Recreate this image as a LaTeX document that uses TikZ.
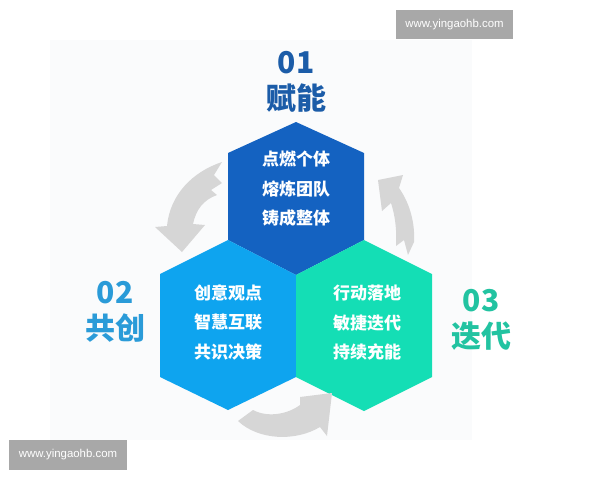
\documentclass[tikz,border=0pt]{standalone}
\usepackage{fontspec}
\setmainfont{Liberation Sans}
\newfontfamily\cjk{Noto Sans CJK SC}
\usepackage{xcolor}
\definecolor{topblue}{HTML}{1462C1}
\definecolor{leftblue}{HTML}{0EA4EF}
\definecolor{rightgreen}{HTML}{14DEB5}
\definecolor{titletop}{HTML}{1B5CA8}
\definecolor{titleleft}{HTML}{2A9BD8}
\definecolor{titleright}{HTML}{22C3A1}
\definecolor{arrowgray}{HTML}{D6D6D6}
\definecolor{markgray}{HTML}{A8A8A8}
\definecolor{panel}{HTML}{FAFBFC}

\begin{document}
\begin{tikzpicture}[x=1pt,y=-1pt,
    hexlabel/.style={text=white,align=center,inner sep=0pt,font=\cjk\bfseries\fontsize{17}{29.5}\selectfont},
    title/.style={align=center,inner sep=0pt,font=\cjk\bfseries\fontsize{30}{36}\selectfont},
    markbox/.style={fill=markgray,text=white,minimum width=117pt,minimum height=29pt,font=\fontsize{11.4}{13}\selectfont}]
    \useasboundingbox (0,0) rectangle (600,480);
    \fill[white] (0,0) rectangle (600,480);
    \fill[panel] (50,40) rectangle (472,440);

    \fill[topblue] (296,122) -- (364,153) -- (364,240) -- (296,275) -- (228,240) -- (228,153) -- cycle;
    \fill[leftblue] (228,240) -- (296,275) -- (296,377) -- (228,410) -- (160,377) -- (160,274) -- cycle;
    \fill[rightgreen] (364,240) -- (432,274) -- (432,377) -- (364,411) -- (296,377) -- (296,275) -- cycle;

    \fill[arrowgray] (222,162) .. controls (192,172) and (170,195) .. (167,226) -- (155,227) -- (182,252) -- (205,225)
        -- (193,224) .. controls (196,210) and (203,200) .. (217,195) -- (211,190) -- (222,183) -- (214,175) -- cycle;
    \fill[arrowgray] (378,180) -- (403,175) -- (399,188) .. controls (411,205) and (415,225) .. (414,242)
        -- (408,255) -- (404,240) -- (396,246) .. controls (397,230) and (395,215) .. (391,203) -- (382,211) -- cycle;
    \fill[arrowgray] (238,421) -- (253,410) .. controls (268,418) and (288,414) .. (300,405) -- (300,397) -- (332,393)
        -- (327,436) -- (320,427) .. controls (295,442) and (258,440) .. (238,421) -- cycle;

    \node[hexlabel] (empower) at (296,189) {点燃个体\\熔炼团队\\铸成整体};
    \node[hexlabel] (cocreate) at (228,322) {创意观点\\智慧互联\\共识决策};
    \node[hexlabel] (iterate) at (367,323) {行动落地\\敏捷迭代\\持续充能};

    \node[title,text=titletop] (t01) at (296,82) {01\\赋能};
    \node[title,text=titleleft] (t02) at (115,312) {02\\共创};
    \node[title,text=titleright] (t03) at (481,320) {03\\迭代};

    \node[markbox] (mark1) at (454.5,24.5) {www.yingaohb.com};
    \node[markbox,minimum width=118pt,minimum height=30pt] (mark2) at (68,455) {www.yingaohb.com};
\end{tikzpicture}
\end{document}
